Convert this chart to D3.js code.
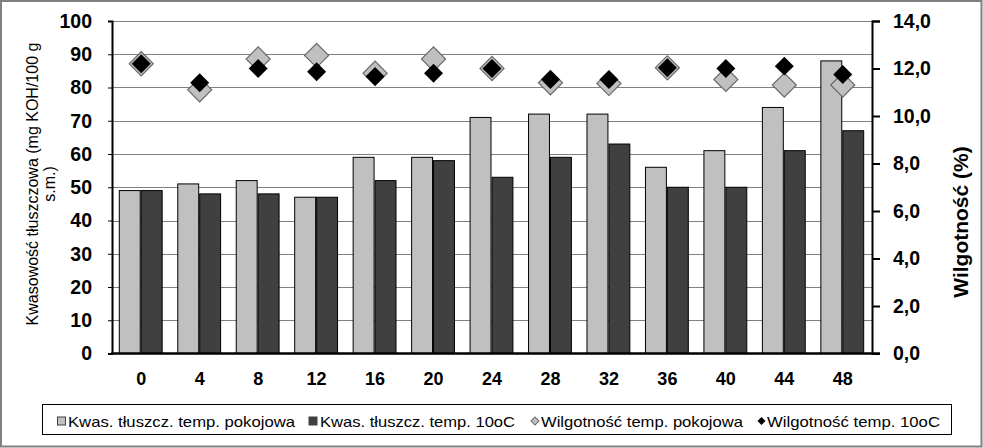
<!DOCTYPE html>
<html><head><meta charset="utf-8">
<script src="https://cdn.jsdelivr.net/npm/d3@7"></script>
<style>body{margin:0;background:#fff}svg{display:block}</style>
</head><body>
<script>
const categories = ["0","4","8","12","16","20","24","28","32","36","40","44","48"];
const acidRoom = [49,51,52,47,59,59,71,72,72,56,61,74,88];
const acid10 = [49,48,48,47,52,58,53,59,63,50,50,61,67];
const moistRoom = [12.2,11.1,12.4,12.55,11.8,12.4,12.0,11.4,11.37,12.03,11.54,11.3,11.3];
const moist10 = [12.2,11.4,12.0,11.86,11.66,11.8,12.0,11.54,11.54,12.03,12.0,12.1,11.75];
const leftTicks = [0,10,20,30,40,50,60,70,80,90,100];
const rightTicks = [0,2,4,6,8,10,12,14];
const seriesNames = ["Kwas. tłuszcz. temp. pokojowa","Kwas. tłuszcz. temp. 10oC","Wilgotność temp. pokojowa","Wilgotność temp. 10oC"];

const W=983,H=448;
const L=112,R=872,T=21,B=353.5;
const svg=d3.select("body").append("svg").attr("width",W).attr("height",H);
svg.append("rect").attr("x",0).attr("y",0).attr("width",W).attr("height",H).attr("fill","#fff");
svg.append("rect").attr("x",1).attr("y",1).attr("width",W-2.5).attr("height",H-2.5).attr("fill","none").attr("stroke","#808080").attr("stroke-width",2);

const x=d3.scaleBand().domain(categories).range([L,R]).paddingInner(0.25).paddingOuter(0.125);
const x1=d3.scaleBand().domain(["room","c10"]).range([0,x.bandwidth()]).padding(0);
const y=d3.scaleLinear().domain([0,100]).range([B,T]);
const y2=d3.scaleLinear().domain([0,14]).range([B,T]);

// gridlines
svg.append("g").selectAll("line").data(leftTicks.filter(d=>d>0)).join("line")
 .attr("x1",L).attr("x2",R).attr("y1",d=>Math.round(y(d))+0.5).attr("y2",d=>Math.round(y(d))+0.5)
 .attr("stroke","#808080").attr("stroke-width",1);

// bars
const bars=svg.append("g");
categories.forEach((c,i)=>{
  bars.append("rect").attr("x",x(c)+x1("room")).attr("y",y(acidRoom[i])).attr("width",x1.bandwidth()-1).attr("height",B-y(acidRoom[i]))
   .attr("fill","#c0c0c0").attr("stroke","#000").attr("stroke-width",1);
  bars.append("rect").attr("x",x(c)+x1("c10")).attr("y",y(acid10[i])).attr("width",x1.bandwidth()-1).attr("height",B-y(acid10[i]))
   .attr("fill","#404040").attr("stroke","#000").attr("stroke-width",1);
});

// axes
const ax=d3.axisLeft(y).tickValues(leftTicks).tickSize(4).tickFormat(d3.format("d"));
const gl=svg.append("g").attr("transform",`translate(${L},0)`).call(ax);
gl.select(".domain").attr("stroke","#000").attr("stroke-width",2);
gl.selectAll(".tick line").attr("stroke","#000");
gl.selectAll(".tick text").attr("x",-20).attr("font-family","Liberation Sans, Arial").attr("font-weight","bold").attr("font-size",19.5).attr("fill","#000");

const ar=d3.axisRight(y2).tickValues(rightTicks).tickSize(8).tickFormat(d=>d3.format(".1f")(d).replace(".",","));
const gr=svg.append("g").attr("transform",`translate(${R},0)`).call(ar);
gr.select(".domain").attr("stroke","#000").attr("stroke-width",2);
gr.selectAll(".tick line").attr("stroke","#000").attr("stroke-width",2);
gr.selectAll(".tick text").attr("x",21).attr("font-family","Liberation Sans, Arial").attr("font-weight","bold").attr("font-size",19.5).attr("fill","#000");

// baseline
svg.append("line").attr("x1",L-1).attr("x2",R+8).attr("y1",B).attr("y2",B).attr("stroke","#000").attr("stroke-width",2.5);

// category labels
const ab=d3.axisBottom(x).tickSize(0);
const gb=svg.append("g").attr("transform",`translate(0,${B})`).call(ab);
gb.select(".domain").remove();
gb.selectAll(".tick text").attr("y",19).attr("font-family","Liberation Sans, Arial").attr("font-weight","bold").attr("font-size",18).attr("fill","#000");

// diamonds
const symG=d3.symbol().type(d3.symbolSquare).size(290);
const symB=d3.symbol().type(d3.symbolSquare).size(180);
const cx=c=>x(c)+x.bandwidth()/2;
const dg=svg.append("g");
dg.selectAll("path.g").data(categories).join("path").attr("class","g")
 .attr("d",symG).attr("transform",(c,i)=>`translate(${cx(c)},${y2(moistRoom[i])}) rotate(45)`)
 .attr("fill","#c0c0c0").attr("stroke","#6a6a6a").attr("stroke-width",1.2);
dg.selectAll("path.b").data(categories).join("path").attr("class","b")
 .attr("d",symB).attr("transform",(c,i)=>`translate(${cx(c)},${y2(moist10[i])}) rotate(45)`)
 .attr("fill","#000");

// axis titles
const lt=svg.append("text").attr("transform","translate(38,184) rotate(-90)").attr("text-anchor","middle")
 .attr("font-family","Liberation Sans, Arial").attr("font-size",16).attr("fill","#000");
lt.append("tspan").attr("x",0).attr("dy",0).text("Kwasowość tłuszczowa (mg KOH/100 g");
lt.append("tspan").attr("x",0).attr("dy",17).text("s.m.)");
svg.append("text").attr("transform","translate(968,222) rotate(-90)").attr("text-anchor","middle")
 .attr("font-family","Liberation Sans, Arial").attr("font-weight","bold").attr("font-size",21).attr("fill","#000").text("Wilgotność (%)");

// legend
svg.append("rect").attr("x",42.5).attr("y",404.5).attr("width",909).attr("height",30).attr("fill","#fff").attr("stroke","#000").attr("stroke-width",1);
const legItems=[
 {mx:61.5,tx:68,tw:227,type:"sq",fill:"#c0c0c0",stroke:"#404040"},
 {mx:313,tx:320,tw:195,type:"sq",fill:"#404040",stroke:"#404040"},
 {mx:535,tx:541,tw:202,type:"di",fill:"#c0c0c0",stroke:"#6a6a6a"},
 {mx:761.5,tx:767,tw:173,type:"di",fill:"#000",stroke:"none"}];
const lg=svg.append("g");
legItems.forEach((it,i)=>{
  if(it.type==="sq"){
    lg.append("rect").attr("x",it.mx-4).attr("y",417).attr("width",8).attr("height",8).attr("fill",it.fill).attr("stroke",it.stroke).attr("stroke-width",1);
  } else {
    lg.append("path").attr("d",d3.symbol().type(d3.symbolSquare).size(32)()).attr("transform",`translate(${it.mx},421) rotate(45)`)
      .attr("fill",it.fill).attr("stroke",it.stroke);
  }
  lg.append("text").attr("x",it.tx).attr("y",426.5).attr("font-family","Liberation Sans, Arial").attr("font-size",15)
    .attr("textLength",it.tw).attr("lengthAdjust","spacingAndGlyphs").attr("fill","#000").text(seriesNames[i]);
});
</script>
</body></html>
